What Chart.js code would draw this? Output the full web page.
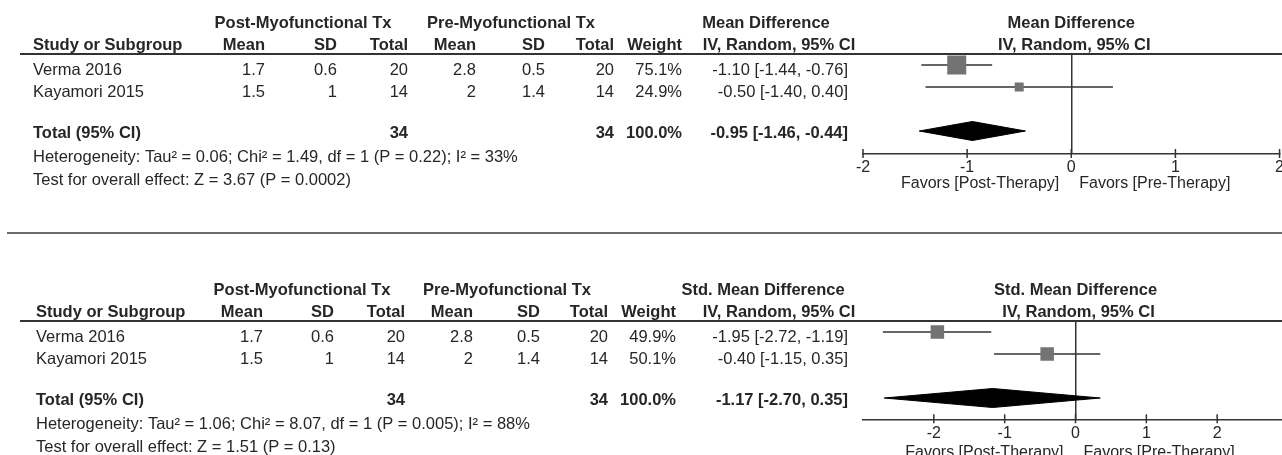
<!DOCTYPE html>
<html>
<head>
<meta charset="utf-8">
<script src="https://cdn.jsdelivr.net/npm/chart.js@4.4.1/dist/chart.umd.min.js"></script>
<style>
  html, body { margin: 0; padding: 0; background: #fff; overflow: hidden; width: 1282px; height: 455px; }
  canvas { position: absolute; left: 0; }
  #mdChart { top: 0; }
  #smdChart { top: 267px; }
  .divider { position: absolute; left: 7px; width: 1290px; top: 232px; height: 2px; background: #6b6b6b; }
</style>
</head>
<body>
<canvas id="mdChart" width="1288" height="225"></canvas>
<div class="divider"></div>
<canvas id="smdChart" width="1288" height="225"></canvas>
<script>
// Same two trials feed both analyses
const studies = ['Verma 2016', 'Kayamori 2015'];
const postMean = [1.7, 1.5];
const postSD = [0.6, 1];
const postN = [20, 14];
const preMean = [2.8, 2];
const preSD = [0.5, 1.4];
const preN = [20, 14];

// Mean difference (top plot)
const mdWeight = [75.1, 24.9];
const mdEst = [-1.10, -0.50];
const mdLow = [-1.44, -1.40];
const mdHigh = [-0.76, 0.40];
const mdTotal = [-0.95, -1.46, -0.44]; // estimate, low, high
const mdTicks = [-2, -1, 0, 1, 2];
const mdStats = [
    'Heterogeneity: Tau\u00b2 = 0.06; Chi\u00b2 = 1.49, df = 1 (P = 0.22); I\u00b2 = 33%',
    'Test for overall effect: Z = 3.67 (P = 0.0002)'
];

// Std. mean difference (bottom plot)
const smdWeight = [49.9, 50.1];
const smdEst = [-1.95, -0.40];
const smdLow = [-2.72, -1.15];
const smdHigh = [-1.19, 0.35];
const smdTotal = [-1.17, -2.70, 0.35];
const smdTicks = [-2, -1, 0, 1, 2];
const smdStats = [
    'Heterogeneity: Tau\u00b2 = 1.06; Chi\u00b2 = 8.07, df = 1 (P = 0.005); I\u00b2 = 88%',
    'Test for overall effect: Z = 1.51 (P = 0.13)'
];

const FONT = '"Liberation Sans", Arial, Helvetica, sans-serif';
const TEXT = '#262626';
const LINE = '#333333';
const ROW_PX = 22;          // pixels per table row
const studyRows = [0.5, 1.5];
const totalRow = 3.5;

const fmt2 = v => v.toFixed(2);
const ciText = (e, l, h) => `${fmt2(e)} [${fmt2(l)}, ${fmt2(h)}]`;

// draws the table part and the hand-made axis bits
const forestText = {
    id: 'forestText',
    afterDraw(chart) {
        const o = chart.options.plugins.forestText;
        const ctx = chart.ctx;
        const xs = chart.scales.x, ys = chart.scales.y;
        const area = chart.chartArea;
        const c = o.cols;
        ctx.save();
        ctx.fillStyle = TEXT;
        const txt = (s, x, y, align, bold, size) => {
            ctx.font = (bold ? 'bold ' : '') + (size || 16.5) + 'px ' + FONT;
            ctx.textAlign = align;
            ctx.textBaseline = 'alphabetic';
            ctx.fillText(s, x, y);
        };
        // headers
        txt('Post-Myofunctional Tx', o.groupX[0], 28, 'center', true);
        txt('Pre-Myofunctional Tx', o.groupX[1], 28, 'center', true);
        txt(o.title, o.effectHeadX, 28, 'center', true);
        txt(o.title, (area.left + area.right) / 2, 28, 'center', true);
        txt('Study or Subgroup', c[0], 50, 'left', true);
        ['Mean', 'SD', 'Total', 'Mean', 'SD', 'Total', 'Weight'].forEach((h, i) => txt(h, c[i + 1], 50, 'right', true));
        txt('IV, Random, 95% CI', 779, 50, 'center', true);
        txt('IV, Random, 95% CI', (area.left + area.right) / 2 + 3, 50, 'center', true);

        ctx.strokeStyle = LINE;
        ctx.lineWidth = 2;
        ctx.beginPath();
        ctx.moveTo(20, area.top);
        ctx.lineTo(chart.width, area.top);
        ctx.stroke();

        // study rows
        studies.forEach((s, i) => {
            const y = ys.getPixelForValue(studyRows[i]) + 10;
            txt(s, c[0], y, 'left');
            [postMean[i], postSD[i], postN[i], preMean[i], preSD[i], preN[i]].forEach((v, k) => txt(String(v), c[k + 1], y, 'right'));
            txt(o.weight[i].toFixed(1) + '%', c[7], y, 'right');
            txt(ciText(o.est[i], o.low[i], o.high[i]), c[8], y, 'right');
        });

        // total row
        const ty = ys.getPixelForValue(totalRow) + 6.5;
        txt('Total (95% CI)', c[0], ty, 'left', true);
        txt(String(postN.reduce((a, b) => a + b, 0)), c[3], ty, 'right', true);
        txt(String(preN.reduce((a, b) => a + b, 0)), c[6], ty, 'right', true);
        txt(o.weight.reduce((a, b) => a + b, 0).toFixed(1) + '%', c[7], ty, 'right', true);
        txt(ciText(o.total[0], o.total[1], o.total[2]), c[8], ty, 'right', true);

        txt(o.stats[0], c[0], 161.5, 'left');
        txt(o.stats[1], c[0], 185, 'left');

        // tick marks crossing the axis line
        ctx.strokeStyle = LINE;
        ctx.lineWidth = 1.5;
        xs.ticks.forEach(t => {
            const x = xs.getPixelForValue(t.value);
            ctx.beginPath();
            ctx.moveTo(x, area.bottom - 5);
            ctx.lineTo(x, area.bottom + 4);
            ctx.stroke();
        });

        const x0 = xs.getPixelForValue(0);
        txt('Favors [Post-Therapy]', x0 - 12, area.bottom + o.favorsDy, 'right', false, 16);
        txt('Favors [Pre-Therapy]', x0 + 8, area.bottom + o.favorsDy, 'left', false, 16);
        ctx.restore();
    }
};

const makeForest = (id, d) => {
    const canvas = document.getElementById(id);
    const H = canvas.height;
    const datasets = [];
    // squares on top
    datasets.push({
        data: d.est.map((v, i) => ({ x: v, y: studyRows[i] })),
        pointStyle: 'rect',
        pointRadius: d.boxSide.map(s => s / (2 * Math.SQRT1_2)),
        backgroundColor: '#737373',
        borderWidth: 0,
        order: 0
    });
    d.est.forEach((v, i) => {
        datasets.push({
            data: [{ x: d.low[i], y: studyRows[i] }, { x: d.high[i], y: studyRows[i] }],
            showLine: true,
            borderColor: LINE,
            borderWidth: 1.5,
            pointRadius: 0,
            order: 1
        });
    });
    // diamond: upper half, then lower half filled back to it
    const half = 9.5 / ROW_PX;
    datasets.push({
        type: 'line',
        data: [{ x: d.total[1], y: totalRow }, { x: d.total[0], y: totalRow - half }, { x: d.total[2], y: totalRow }],
        borderColor: '#000', borderWidth: 1, pointRadius: 0, tension: 0, fill: false, order: 2
    });
    datasets.push({
        type: 'line',
        data: [{ x: d.total[1], y: totalRow }, { x: d.total[0], y: totalRow + half }, { x: d.total[2], y: totalRow }],
        borderColor: '#000', borderWidth: 1, pointRadius: 0, tension: 0,
        fill: '-1', backgroundColor: '#000', order: 2
    });

    return new Chart(canvas, {
        type: 'scatter',
        data: { datasets },
        options: {
            responsive: false,
            animation: false,
            layout: { autoPadding: false, padding: { left: 863, right: 0, top: 54, bottom: H - d.axisY - 30 } },
            plugins: {
                legend: { display: false },
                tooltip: { enabled: false },
                forestText: d
            },
            scales: {
                x: {
                    type: 'linear',
                    min: d.xMin,
                    max: d.xMax,
                    afterBuildTicks: s => { s.ticks = d.ticks.map(v => ({ value: v })); },
                    afterFit: s => { s.height = 30; },
                    grid: {
                        drawTicks: false,
                        lineWidth: 1.5,
                        color: c => (c.tick && c.tick.value === 0 ? LINE : 'rgba(0,0,0,0)')
                    },
                    border: { display: true, color: LINE, width: 1.5 },
                    ticks: { font: { family: FONT, size: 16 }, color: TEXT, padding: d.tickPad, maxRotation: 0, autoSkip: false }
                },
                y: { type: 'linear', display: false, reverse: true, min: 0, max: (d.axisY - 54) / ROW_PX }
            }
        },
        plugins: [forestText]
    });
};

makeForest('mdChart', {
    title: 'Mean Difference', weight: mdWeight, est: mdEst, low: mdLow, high: mdHigh,
    total: mdTotal, ticks: mdTicks, stats: mdStats,
    xMin: -2, xMax: 2, axisY: 154, boxSide: [19, 9], tickPad: 4, favorsDy: 34,
    cols: [33, 265, 337, 408, 476, 545, 614, 682, 848], groupX: [303, 511], effectHeadX: 766
});
makeForest('smdChart', {
    title: 'Std. Mean Difference', weight: smdWeight, est: smdEst, low: smdLow, high: smdHigh,
    total: smdTotal, ticks: smdTicks, stats: smdStats,
    xMin: -3, xMax: 3, axisY: 152.3, boxSide: [13.5, 13.5], tickPad: 5, favorsDy: 38,
    cols: [36, 263, 334, 405, 473, 540, 608, 676, 848], groupX: [302, 507], effectHeadX: 763
});
</script>
</body>
</html>
